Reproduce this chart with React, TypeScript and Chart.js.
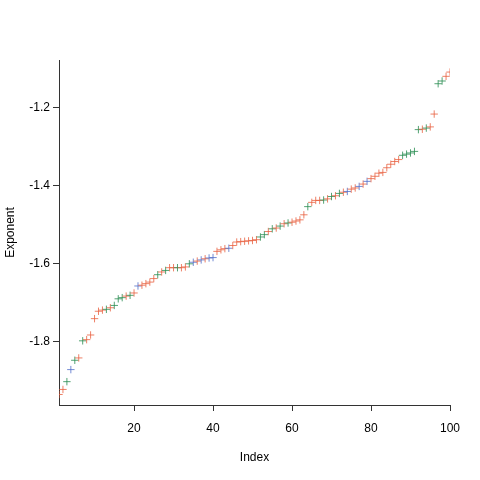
import { useEffect, useRef } from "react";
import { Chart, registerables } from "chart.js";

Chart.register(...registerables);

// exponents, sorted, one per index
const exponents = [
  -1.937, -1.924, -1.904, -1.873, -1.849, -1.843, -1.799, -1.796, -1.784, -1.742,
  -1.723, -1.72, -1.718, -1.714, -1.708, -1.691, -1.688, -1.684, -1.682, -1.676,
  -1.658, -1.656, -1.652, -1.648, -1.639, -1.629, -1.622, -1.618, -1.611, -1.611,
  -1.611, -1.611, -1.609, -1.601, -1.597, -1.594, -1.591, -1.588, -1.586, -1.585,
  -1.569, -1.565, -1.562, -1.561, -1.554, -1.545, -1.544, -1.543, -1.542, -1.541,
  -1.539, -1.532, -1.526, -1.518, -1.511, -1.509, -1.504, -1.498, -1.496, -1.494,
  -1.491, -1.488, -1.475, -1.454, -1.443, -1.438, -1.438, -1.437, -1.434, -1.428,
  -1.426, -1.42, -1.417, -1.415, -1.409, -1.406, -1.402, -1.396, -1.389, -1.382,
  -1.376, -1.368, -1.366, -1.354, -1.345, -1.338, -1.333, -1.322, -1.319, -1.316,
  -1.312, -1.256, -1.255, -1.252, -1.249, -1.216, -1.138, -1.131, -1.119, -1.108,
];

// group of each point: r / g / b
const groups = [
  "r", "r", "g", "b", "g", "r", "g", "r", "r", "r",
  "r", "r", "g", "r", "g", "g", "g", "r", "g", "r",
  "b", "r", "r", "r", "r", "g", "r", "g", "r", "r",
  "g", "r", "r", "g", "b", "r", "b", "r", "b", "b",
  "r", "r", "r", "b", "r", "r", "r", "r", "r", "r",
  "r", "g", "g", "r", "g", "r", "g", "r", "g", "r",
  "r", "r", "r", "g", "r", "r", "r", "g", "r", "g",
  "r", "g", "r", "b", "r", "r", "b", "r", "b", "r",
  "r", "r", "r", "r", "r", "r", "r", "g", "g", "g",
  "g", "g", "r", "g", "r", "r", "g", "g", "r", "r",
];

const xTicks = [20, 40, 60, 80, 100];
const yTicks = [-1.8, -1.6, -1.4, -1.2];

const palette: Record<string, string> = {
  r: "rgba(232, 96, 64, 0.8)",
  g: "rgba(40, 140, 80, 0.8)",
  b: "rgba(80, 110, 200, 0.8)",
};

export default function App() {
  const canvasRef = useRef<HTMLCanvasElement>(null);
  const chartRef = useRef<Chart | null>(null);

  useEffect(() => {
    if (!canvasRef.current) return;
    if (chartRef.current) chartRef.current.destroy();

    const font = { family: "'Liberation Sans', Arial, sans-serif", size: 12 };

    chartRef.current = new Chart(canvasRef.current, {
      type: "scatter",
      data: {
        datasets: [
          {
            data: exponents.map((v, i) => ({ x: i + 1, y: v })),
            pointStyle: "cross",
            pointRadius: 3.7,
            pointBorderWidth: 1,
            pointBorderColor: groups.map((g) => palette[g]),
            pointBackgroundColor: groups.map((g) => palette[g]),
          },
        ],
      },
      options: {
        animation: false,
        responsive: true,
        maintainAspectRatio: false,
        layout: { padding: { top: 60, right: 30, left: 0, bottom: 0 } },
        plugins: { legend: { display: false }, tooltip: { enabled: false } },
        scales: {
          x: {
            type: "linear",
            min: 1,
            max: 100,
            afterBuildTicks: (s) => {
              s.ticks = xTicks.map((v) => ({ value: v }));
            },
            afterFit: (s) => {
              s.height = 75;
            },
            border: { display: true, color: "#333", width: 1 },
            grid: { drawOnChartArea: false, drawTicks: true, tickLength: 6, tickColor: "#333" },
            ticks: { color: "#000", font, padding: 10, maxRotation: 0 },
            title: { display: true, text: "Index", color: "#000", font, padding: { top: 0, bottom: 15 } },
          },
          y: {
            type: "linear",
            min: -1.964,
            max: -1.077,
            afterBuildTicks: (s) => {
              s.ticks = yTicks.map((v) => ({ value: v }));
            },
            afterFit: (s) => {
              s.width = 59;
            },
            border: { display: true, color: "#333", width: 1 },
            grid: { drawOnChartArea: false, drawTicks: true, tickLength: 6, tickColor: "#333" },
            ticks: { color: "#000", font, padding: 3, callback: (v) => Number(v).toFixed(1) },
            title: { display: true, text: "Exponent", color: "#000", font, padding: { top: 3, bottom: 0 } },
          },
        },
      },
    });

    return () => {
      if (chartRef.current) {
        chartRef.current.destroy();
        chartRef.current = null;
      }
    };
  }, []);

  return (
    <div style={{ position: "fixed", left: 0, top: 0, width: 480, height: 480, background: "#fff" }}>
      <canvas ref={canvasRef}></canvas>
    </div>
  );
}
